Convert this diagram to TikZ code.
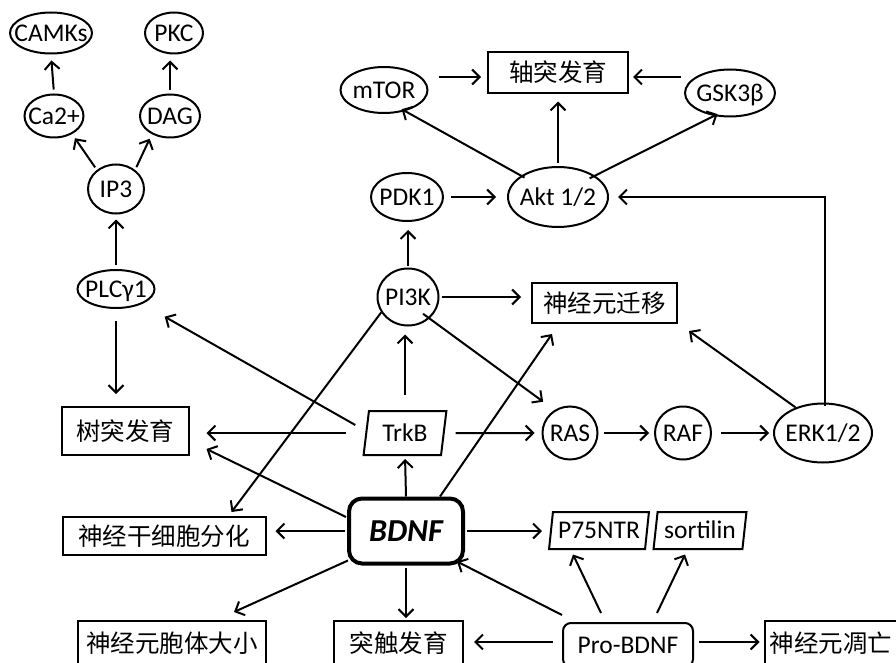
\documentclass[tikz,border=0pt]{standalone}
\usepackage{fontspec}
\setmainfont{Carlito}
\newfontfamily\cjk{Noto Sans CJK SC}
\usetikzlibrary{shapes.geometric,arrows.meta,calc}
\newcommand\zw[1]{\makebox[0pt]{#1}}
\tikzset{
  lat/.style={font=\fontsize{25.5}{28}\selectfont, text height=16.5pt, text depth=0pt, inner sep=0pt},
  ell/.style={lat, ellipse, draw, line width=2pt},
  cjkbox/.style={draw, line width=2pt, rectangle, inner sep=0pt,
    font=\cjk\fontsize{24.5}{26}\selectfont, text height=21pt, text depth=3pt},
  para/.style={lat, draw, line width=2pt, trapezium, trapezium left angle=78,
    trapezium right angle=102, trapezium stretches=true, inner xsep=1pt},
  arr/.style={line width=2pt, -{Straight Barb[length=7.5pt,width=15pt,line width=2pt]}},
}
\begin{document}
\begin{tikzpicture}[x=1pt,y=-1pt]
\useasboundingbox (0,0) rectangle (896,663);
\clip (0,0) rectangle (896,663);
% nodes
\node[ell, minimum width=82pt, minimum height=41pt] (camks) at (51,33) {\zw{CAMKs}};
\node[ell, minimum width=58pt, minimum height=41pt] (pkc) at (174,33) {\zw{PKC}};
\node[ell, minimum width=59pt, minimum height=43pt] (ca) at (54,116) {\zw{Ca2+}};
\node[ell, minimum width=60pt, minimum height=43pt] (dag) at (170,116) {\zw{DAG}};
\node[ell, minimum width=56pt, minimum height=49pt] (ip3) at (116,189) {\zw{IP3}};
\node[ell, minimum width=77pt, minimum height=38pt] (plc) at (116,289) {\zw{PLCγ1}};
\node[cjkbox, minimum width=127pt, minimum height=48pt] (tree) at (125,431) {树突发育};
\node[cjkbox, minimum width=203pt, minimum height=38pt] (nsc) at (164,536) {神经干细胞分化};
\node[para, minimum width=83pt, minimum height=44pt] (trkb) at (405,433) {TrkB};
\node[ell, minimum width=61pt, minimum height=57pt] (pi3k) at (408,297) {\zw{PI3K}};
\node[ell, minimum width=72pt, minimum height=48pt] (pdk1) at (407,197) {\zw{PDK1}};
\node[ell, minimum width=100pt, minimum height=60pt] (akt) at (558,197) {\zw{Akt 1/2}};
\node[ell, minimum width=87pt, minimum height=46pt] (mtor) at (384,90) {\zw{mTOR}};
\node[cjkbox, minimum width=140pt, minimum height=41pt] (axon) at (558,73) {轴突发育};
\node[ell, minimum width=90pt, minimum height=47pt] (gsk) at (730,93) {\zw{GSK3β}};
\node[cjkbox, minimum width=145pt, minimum height=40pt] (mig) at (604.5,303) {神经元迁移};
\node[ell, minimum width=55pt, minimum height=53pt] (ras) at (570,433) {\zw{RAS}};
\node[ell, minimum width=56pt, minimum height=53pt] (raf) at (683,433) {\zw{RAF}};
\node[ell, minimum width=98pt, minimum height=59pt] (erk) at (823,433) {\zw{ERK1/2}};
\node[draw, line width=4pt, rounded corners=13pt, minimum width=114pt, minimum height=65pt,
  inner sep=0pt, font=\bfseries\itshape\fontsize{32}{34}\selectfont, text height=20.5pt, text depth=0pt]
  (bdnf) at (406,531) {BDNF};
\node[para, minimum width=100pt, minimum height=37pt] (p75) at (599,530.5) {P75NTR};
\node[para, minimum width=93pt, minimum height=37pt] (sort) at (700,530.5) {sortilin};
\node[cjkbox, minimum width=188pt, minimum height=44pt] (soma) at (172,643) {神经元胞体大小};
\node[cjkbox, minimum width=129pt, minimum height=44pt] (syn) at (398.5,643) {突触发育};
\node[lat, draw, line width=2pt, rounded corners=8pt, minimum width=130pt, minimum height=44pt]
  (pro) at (628,645) {Pro-BDNF};
\node[cjkbox, minimum width=143pt, minimum height=44pt, text width=133pt, align=left] (apop) at (836,643) {神经元凋亡};
% connectors
\draw[arr, shorten <=4pt, shorten >=6pt] (ca.north) -- (camks.south);
\draw[arr, shorten <=3pt, shorten >=6pt] (dag.north) -- (dag.north |- pkc.south);
\draw[arr, shorten <=3pt, shorten >=5pt] (ip3.135) -- (ca.-45);
\draw[arr, shorten <=3pt, shorten >=5pt] (ip3.45) -- (dag.-135);
\draw[arr, shorten <=4pt, shorten >=5pt] (plc.north) -- (plc.north |- ip3.south);
\draw[arr, shorten <=12pt, shorten >=12pt] (plc.south) -- (plc.south |- tree.north);
\draw[arr, shorten >=56pt] ($(trkb.west)+(-10,-8)$) -- (plc.center);
\draw[arr, shorten <=19pt, shorten >=17pt] (trkb.west) -- (trkb.west -| tree.east);
\draw[arr] ($(bdnf.west)+(-1,-14)$) -- ($(tree.south east)+(17,-7)$);
\draw[arr, shorten >=3pt] (bdnf.north) -- (trkb.south);
\draw[arr, shorten <=2pt, shorten >=9pt] (bdnf.west) -- (bdnf.west -| nsc.east);
\draw[arr] (pi3k.210) -- ($(nsc.north east)+(-35,-4)$);
\draw[arr, shorten <=15pt, shorten >=8pt] (trkb.north) -- (trkb.north |- pi3k.south);
\draw[arr, shorten <=2pt, shorten >=8pt] (pi3k.north) -- (pi3k.north |- pdk1.south);
\draw[arr, shorten <=7pt, shorten >=11pt] (pdk1.east) -- (akt.west);
\draw[arr, shorten <=3pt, shorten >=7pt] (akt.north) -- (akt.north |- axon.south);
\draw[arr, shorten <=-4pt, shorten >=-4pt] (akt.150) -- (mtor.-45);
\draw[arr, shorten <=-6pt, shorten >=-4pt] (akt.30) -- (gsk.235);
\draw[arr, shorten <=10pt, shorten >=6pt] ($(mtor.east |- axon.west)+(0,4)$) -- ($(axon.west)+(0,4)$);
\draw[arr, shorten <=3pt, shorten >=4pt] ($(gsk.west |- axon.east)+(0,4)$) -- ($(axon.east)+(0,4)$);
\draw[arr, shorten <=-3pt, shorten >=9pt] ($(erk.north)+(2,0)$) |- (akt.east);
\draw[arr, shorten <=2pt, shorten >=10pt] (pi3k.east) -- (pi3k.east -| mig.west);
\draw[arr, shorten <=-8pt, shorten >=14pt] (pi3k.-45) -- (ras.124);
\draw[arr] ($(bdnf.north)+(34,0)$) -- ($(mig.south west)+(21,10)$);
\draw[arr] (erk.137) -- ($(mig.south east)+(11,7)$);
\draw[arr, shorten <=11pt, shorten >=7pt] (trkb.east) -- (ras.west);
\draw[arr, shorten <=5pt, shorten >=5pt] (ras.east) -- (raf.west);
\draw[arr, shorten <=9pt, shorten >=4pt] (raf.east) -- (erk.west);
\draw[arr, shorten <=2pt, shorten >=8pt] (bdnf.east) -- (bdnf.east -| p75.west);
\draw[arr] ($(bdnf.south west)+(1,-5)$) -- ($(soma.north east)+(-33,-8)$);
\draw[arr, shorten <=2pt, shorten >=2pt] (bdnf.south) -- (bdnf.south |- syn.north);
\draw[arr] ($(pro.north west)+(0,-7)$) -- ($(bdnf.south east)+(-8,-4)$);
\draw[arr] ($(pro.north)+(-27,-9)$) -- ($(p75.south)+(-26,4.5)$);
\draw[arr] ($(pro.north)+(29,-9)$) -- ($(sort.south)+(-15,4.5)$);
\draw[arr, shorten <=9pt, shorten >=10pt] ($(pro.west)+(0,-3)$) -- ($(pro.west -| syn.east)+(0,-3)$);
\draw[arr, shorten <=5pt, shorten >=4pt] ($(pro.east)+(0,-3)$) -- ($(pro.east -| apop.west)+(0,-3)$);
\end{tikzpicture}
\end{document}
